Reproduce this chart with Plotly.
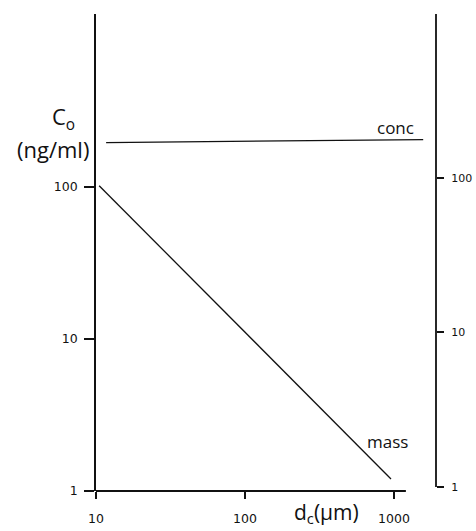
import plotly.graph_objects as go

# Particle diameter d_c (µm) and initial concentration C_o (ng/ml)
mass_d = [10.5, 955]
mass_C = [102, 1.2]
conc_d = [11.7, 1570]
conc_C = [196, 205]

d_ticks = [10, 100, 1000]
C_ticks = [1, 10, 100]
C2_ticks = [1, 10, 100]

# Figure geometry (pixels)
W, H = 476, 531
L, R, T, B = 96, 40, 14, 40
PW, PH = W - L - R, H - T - B


def px_x(px):
    return (px - L) / PW


def px_y(py):
    return (H - B - py) / PH


INK = "#111111"
TICK_FONT = "DejaVu Sans"
LABEL_FONT = "Open Sans"

fig = go.Figure()
fig.add_trace(go.Scatter(x=mass_d, y=mass_C, mode="lines",
                         line=dict(color=INK, width=1.3), hoverinfo="skip"))
fig.add_trace(go.Scatter(x=conc_d, y=conc_C, mode="lines",
                         line=dict(color=INK, width=1.3), hoverinfo="skip"))
# anchor trace so the right-hand scale is drawn
fig.add_trace(go.Scatter(x=[10], y=[1], yaxis="y2", mode="lines",
                         line=dict(width=0), hoverinfo="skip"))

fig.update_layout(
    template="none",
    width=W, height=H,
    margin=dict(l=L, r=R, t=T, b=B, pad=0, autoexpand=False),
    paper_bgcolor="white", plot_bgcolor="white",
    showlegend=False,
    xaxis=dict(type="log", range=[1, 3.282], showgrid=False, zeroline=False,
               automargin=False,
               showline=False, tickvals=d_ticks, ticktext=[str(v) for v in d_ticks],
               ticks="outside", ticklen=7, tickwidth=1.6, tickcolor=INK,
               ticklabelstandoff=9,
               tickfont=dict(family=TICK_FONT, size=12.5, color=INK)),
    yaxis=dict(type="log", range=[0, 3.138], showgrid=False, zeroline=False,
               automargin=False,
               showline=True, linecolor=INK, linewidth=1.8,
               tickvals=C_ticks, ticktext=[str(v) for v in C_ticks],
               ticks="outside", ticklen=10, tickwidth=1.6, tickcolor=INK,
               ticklabelstandoff=4,
               tickfont=dict(family=TICK_FONT, size=12.5, color=INK)),
    yaxis2=dict(type="log", range=[-0.026, 3.061], overlaying="y", side="right",
                anchor="x", showgrid=False, zeroline=False, showline=False,
                automargin=False,
                tickvals=C2_ticks, ticktext=[str(v) for v in C2_ticks],
                ticks="outside", ticklen=7, tickwidth=1.6, tickcolor=INK,
                ticklabelstandoff=5,
                tickfont=dict(family=TICK_FONT, size=11, color=INK)),
)

# bottom axis line (stops short of the right-hand scale)
fig.add_shape(type="line", xref="x", yref="paper", x0=d_ticks[0], x1=1202,
              y0=0, y1=0, line=dict(color=INK, width=1.8))
# right-hand scale line
fig.add_shape(type="line", xref="paper", yref="y2", x0=1, x1=1,
              y0=C2_ticks[0], y1=10 ** 3.061, line=dict(color=INK, width=1.8))

label_font = dict(family=LABEL_FONT, size=21, color=INK)

# y-axis title
fig.add_annotation(text="C<sub>o</sub>",
                   x=px_x(63), y=px_y(118), xref="paper", yref="paper",
                   xanchor="center", yanchor="middle",
                   showarrow=False, font=dict(family=LABEL_FONT, size=22, color=INK))
fig.add_annotation(text="(ng/ml)",
                   x=px_x(53), y=px_y(149), xref="paper", yref="paper",
                   xanchor="center", yanchor="middle",
                   showarrow=False, font=dict(family=LABEL_FONT, size=22, color=INK))
# x-axis title
fig.add_annotation(text="d<sub>c</sub>(µm)",
                   x=px_x(292), y=px_y(513), xref="paper", yref="paper",
                   xanchor="left", yanchor="middle",
                   showarrow=False, font=label_font)

# curve labels
for text, x, y in [("conc", 395, 128), ("mass", 387, 441)]:
    fig.add_annotation(text=text, x=px_x(x), y=px_y(y), xref="paper", yref="paper",
                       xanchor="center", yanchor="middle", showarrow=False,
                       font=dict(family=LABEL_FONT, size=17, color=INK))

fig.write_html("out.html")
